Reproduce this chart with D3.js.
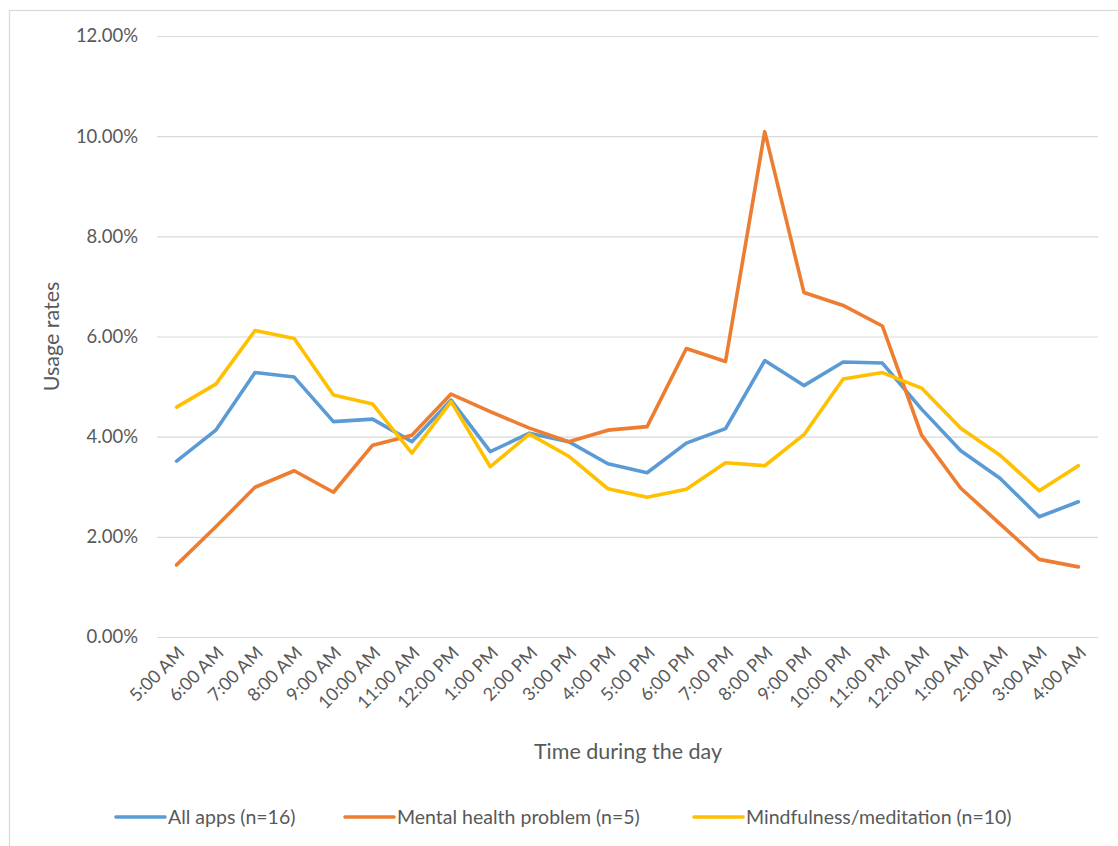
<!DOCTYPE html>
<html>
<head>
<meta charset="utf-8">
<script src="https://cdn.jsdelivr.net/npm/d3@7"></script>
<style>
  html, body { margin: 0; padding: 0; background: #ffffff; }
  svg { display: block; }
  text { font-family: Lato, "Open Sans", sans-serif; fill: #595959; }
</style>
</head>
<body>
<svg id="chart" width="1118" height="846"></svg>
<script>
// Hourly usage share, starting at 5:00 AM
const hours = ["5:00 AM","6:00 AM","7:00 AM","8:00 AM","9:00 AM","10:00 AM","11:00 AM","12:00 PM",
  "1:00 PM","2:00 PM","3:00 PM","4:00 PM","5:00 PM","6:00 PM","7:00 PM","8:00 PM","9:00 PM",
  "10:00 PM","11:00 PM","12:00 AM","1:00 AM","2:00 AM","3:00 AM","4:00 AM"];

const allApps = [3.51,4.13,5.28,5.19,4.30,4.35,3.90,4.73,3.70,4.07,3.90,3.46,3.28,3.87,4.16,
  5.52,5.02,5.49,5.47,4.55,3.72,3.17,2.40,2.70];
const mentalHealth = [1.44,2.20,2.99,3.32,2.89,3.83,4.03,4.85,4.50,4.17,3.90,4.13,4.20,5.76,5.50,
  10.09,6.88,6.62,6.21,4.03,2.97,2.26,1.55,1.40];
const mindfulness = [4.59,5.05,6.12,5.96,4.83,4.65,3.67,4.70,3.40,4.05,3.61,2.96,2.79,2.95,3.48,
  3.42,4.04,5.15,5.28,4.97,4.17,3.63,2.92,3.42];

const seriesNames = ["All apps (n=16)","Mental health problem (n=5)","Mindfulness/meditation (n=10)"];
const seriesColors = ["#5B9BD5","#ED7D31","#FFC000"];
const yTicks = [0,2,4,6,8,10,12];

const series = [allApps, mentalHealth, mindfulness].map((vals, i) => ({
  name: seriesNames[i], color: seriesColors[i], values: vals
}));

const svg = d3.select("#chart");

// outer chart frame
svg.append("rect")
  .attr("x", 9.5).attr("y", 10.5).attr("width", 1130).attr("height", 860)
  .attr("fill", "#fff").attr("stroke", "#d9d9d9").attr("stroke-width", 1.2);

const plot = { left: 157, right: 1098, top: 36, bottom: 637 };

const x = d3.scaleBand().domain(hours).range([plot.left, plot.right]).padding(0);
const y = d3.scaleLinear().domain([0, 12]).range([plot.bottom, plot.top]);
const cx = h => x(h) + x.bandwidth() / 2;

// horizontal gridlines + y labels
const yAxis = d3.axisLeft(y).tickValues(yTicks)
  .tickSize(-(plot.right - plot.left)).tickPadding(19)
  .tickFormat(d => d.toFixed(2) + "%");
const gy = svg.append("g").attr("transform", `translate(${plot.left},0)`).call(yAxis);
gy.select(".domain").remove();
gy.selectAll(".tick line").attr("stroke", "#d9d9d9").attr("stroke-width", 1.2);
gy.selectAll(".tick text").attr("font-size", 18.5).attr("fill", "#595959")
  .style("font-family", "Lato, 'Open Sans', sans-serif");

// category axis labels, rotated
const xAxis = d3.axisBottom(x).tickSize(0).tickPadding(0);
const gx = svg.append("g").attr("transform", `translate(0,${plot.bottom})`).call(xAxis);
gx.select(".domain").remove();
gx.selectAll(".tick text")
  .attr("font-size", 18).attr("fill", "#595959")
  .style("font-family", "Lato, 'Open Sans', sans-serif")
  .attr("text-anchor", "end")
  .attr("dy", null).attr("y", 0)
  .attr("transform", "translate(9,17) rotate(-45)");

// lines
const line = d3.line().x((d, i) => cx(hours[i])).y(d => y(d));
svg.append("g").selectAll("path").data(series).join("path")
  .attr("d", d => line(d.values))
  .attr("fill", "none")
  .attr("stroke", d => d.color)
  .attr("stroke-width", 3.6)
  .attr("stroke-linejoin", "round")
  .attr("stroke-linecap", "round");

// axis titles
svg.append("text")
  .attr("x", 628).attr("y", 759)
  .attr("text-anchor", "middle").attr("font-size", 21.5)
  .text("Time during the day");

svg.append("text")
  .attr("transform", `translate(59,${(plot.top + plot.bottom) / 2}) rotate(-90)`)
  .attr("text-anchor", "middle").attr("font-size", 21.5)
  .text("Usage rates");

// legend
const legendX = [116, 345, 694];
const lg = svg.append("g").selectAll("g").data(series).join("g")
  .attr("transform", (d, i) => `translate(${legendX[i]},817)`);
lg.append("line").attr("x1", 0).attr("x2", 49).attr("y1", 0).attr("y2", 0)
  .attr("stroke", d => d.color).attr("stroke-width", 3.6).attr("stroke-linecap", "round");
lg.append("text").attr("x", 52).attr("y", 6.5).attr("font-size", 19.5).text(d => d.name);
</script>
</body>
</html>
